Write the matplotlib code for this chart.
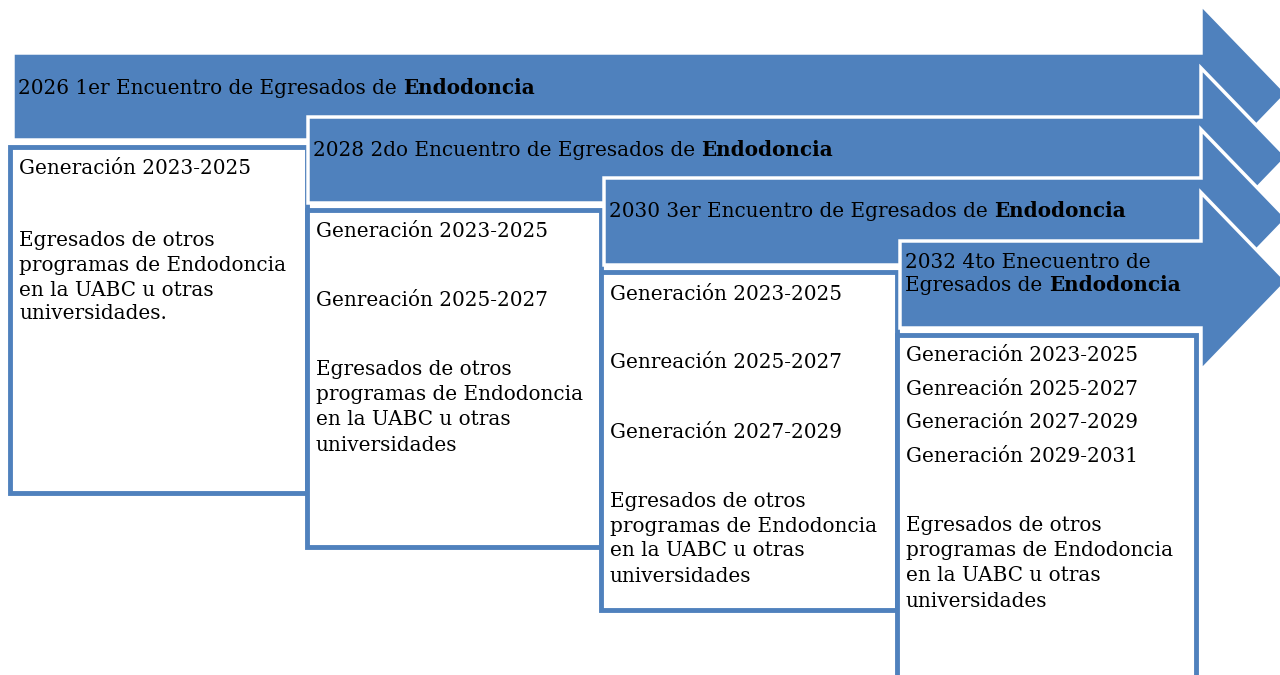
import matplotlib
matplotlib.use('Agg')
import matplotlib.pyplot as plt
from matplotlib.patches import Polygon, Rectangle

# Contenido del diagrama
titles = [
    ["2026 1er Encuentro de Egresados de "],
    ["2028 2do Encuentro de Egresados de "],
    ["2030 3er Encuentro de Egresados de "],
    ["2032 4to Enecuentro de", "Egresados de "],
]
bold_word = "Endodoncia"
box_lines = [
    ["Generación 2023-2025", "Egresados de otros", "programas de Endodoncia",
     "en la UABC u otras", "universidades."],
    ["Generación 2023-2025", "Genreación 2025-2027", "Egresados de otros",
     "programas de Endodoncia", "en la UABC u otras", "universidades"],
    ["Generación 2023-2025", "Genreación 2025-2027", "Generación 2027-2029",
     "Egresados de otros", "programas de Endodoncia", "en la UABC u otras",
     "universidades"],
    ["Generación 2023-2025", "Genreación 2025-2027", "Generación 2027-2029",
     "Generación 2029-2031", "Egresados de otros", "programas de Endodoncia",
     "en la UABC u otras", "universidades"],
]

BLUE = '#4F81BD'
FONT = 'DejaVu Serif'
FS = 14.4
BASE = 6  # desplazamiento centro -> linea base (px)

# layout (pixels, y hacia abajo)
arrow_left = [13, 308, 604, 900]
arrow_top = [53, 117, 178, 241]
arrow_bot = [140, 203, 265, 328]
head_x, tip_x, head_h = 1201, 1287, 89
box_x = [10, 307, 601, 897]
box_y = [147, 210, 272, 335]
box_right = [307, 601, 897, 1196]
box_bot = [493, 547, 610, 700]
title_y = [88, 150, 211, 262]
line_ys = [
    [168, 240, 265, 290, 313],
    [231, 300, 369, 394, 419, 445],
    [294, 362, 432, 501, 526, 550, 576],
    [355, 389, 422, 456, 525, 550, 575, 601],
]

fig = plt.figure(figsize=(12.8, 6.75), dpi=100)
ax = fig.add_axes([0, 0, 1, 1])
ax.set_xlim(0, 1280)
ax.set_ylim(675, 0)
ax.axis('off')
renderer = fig.canvas.get_renderer()


def put(x, y, s, z, weight='normal'):
    return ax.text(x, y + BASE, s, fontsize=FS, family=FONT, fontweight=weight,
                   va='baseline', ha='left', zorder=z)


def text_with_bold(x, y, regular, bold, z):
    t = put(x, y, regular, z)
    bb = t.get_window_extent(renderer=renderer)
    x_end = ax.transData.inverted().transform((bb.x1, bb.y0))[0]
    put(x_end, y, bold, z, weight='bold')


for i in range(4):
    top, bot = arrow_top[i], arrow_bot[i]
    c = (top + bot) / 2 - 3
    pts = [(arrow_left[i], top), (head_x, top), (head_x, c - head_h), (tip_x, c),
           (head_x, c + head_h), (head_x, bot), (arrow_left[i], bot)]
    ax.add_patch(Polygon(pts, closed=True, facecolor=BLUE, edgecolor='white',
                         linewidth=2.5, joinstyle='miter', zorder=3 * i + 1))

    ax.add_patch(Rectangle((box_x[i], box_y[i]), box_right[i] - box_x[i],
                           box_bot[i] - box_y[i], facecolor='white',
                           edgecolor=BLUE, linewidth=3.5, zorder=3 * i + 2))

    tx = arrow_left[i] + 5
    lines = titles[i]
    for k, ln in enumerate(lines):
        yy = title_y[i] + k * 23
        if k == len(lines) - 1:
            text_with_bold(tx, yy, ln, bold_word, 3 * i + 1.5)
        else:
            put(tx, yy, ln, 3 * i + 1.5)

    # texto de la caja
    bx = box_x[i] + 9
    for ln, yy in zip(box_lines[i], line_ys[i]):
        put(bx, yy, ln, 3 * i + 2.5)

fig.savefig('out.png', dpi=100)
